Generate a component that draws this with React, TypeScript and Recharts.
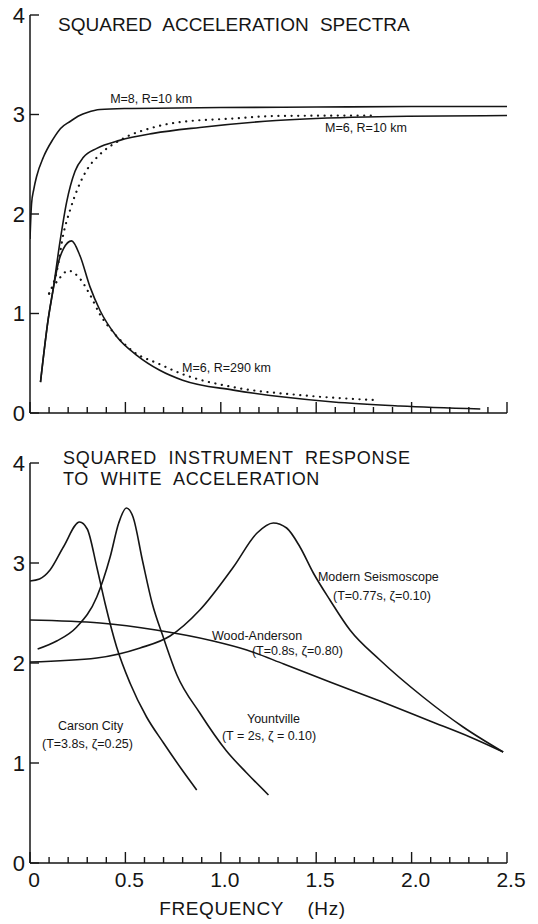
import React from "react";
import { LineChart, Line, XAxis, YAxis, ReferenceDot } from "recharts";

// ---------- DATA ----------
// Top panel: squared acceleration spectra (frequency Hz, value)
const m8r10Solid = [
  [0, 1.75], [0.008, 2.1], [0.02, 2.25], [0.035, 2.38], [0.07, 2.57], [0.12, 2.75],
  [0.16, 2.86], [0.21, 2.93], [0.26, 2.99], [0.3, 3.02], [0.367, 3.05], [0.5, 3.06],
  [1.0, 3.07], [1.5, 3.075], [2.0, 3.08], [2.5, 3.08],
];
const m6r10Solid = [
  [0.055, 0.31], [0.096, 0.95], [0.122, 1.25], [0.157, 1.72], [0.192, 2.12],
  [0.236, 2.43], [0.28, 2.57], [0.35, 2.66], [0.47, 2.74], [0.646, 2.81],
  [0.89, 2.87], [1.29, 2.94], [1.76, 2.975], [2.5, 2.99],
];
const m6r10Dotted = [
  [0.1, 1.2], [0.14, 1.42], [0.175, 1.8], [0.21, 2.04], [0.253, 2.27], [0.297, 2.44],
  [0.367, 2.6], [0.47, 2.74], [0.646, 2.87], [0.77, 2.92], [1.066, 2.96],
  [1.29, 2.985], [1.8, 2.99],
];
const m6r290Solid = [
  [0.055, 0.31], [0.096, 0.95], [0.122, 1.25], [0.15, 1.52], [0.175, 1.65],
  [0.218, 1.73], [0.262, 1.58], [0.314, 1.27], [0.367, 1.03], [0.454, 0.77],
  [0.56, 0.58], [0.68, 0.43], [0.8, 0.33], [1.066, 0.23], [1.33, 0.16],
  [1.59, 0.11], [1.94, 0.07], [2.36, 0.04],
];
const m6r290Dotted = [
  [0.1, 1.2], [0.157, 1.36], [0.2, 1.43], [0.253, 1.37], [0.314, 1.19],
  [0.367, 0.99], [0.437, 0.81], [0.54, 0.62], [0.68, 0.49], [0.8, 0.39],
  [1.066, 0.26], [1.415, 0.18], [1.81, 0.13],
];

// Bottom panel: squared instrument response
const carsonCity = [
  [0, 2.82], [0.05, 2.84], [0.105, 2.93], [0.175, 3.16], [0.26, 3.41],
  [0.3, 3.34], [0.35, 2.96], [0.393, 2.6], [0.454, 2.16], [0.524, 1.8],
  [0.611, 1.46], [0.7, 1.2], [0.79, 0.95], [0.874, 0.73],
];
const yountville = [
  [0.04, 2.14], [0.14, 2.22], [0.245, 2.36], [0.35, 2.66], [0.42, 3.06],
  [0.465, 3.4], [0.505, 3.55], [0.54, 3.46], [0.59, 3.02], [0.64, 2.6],
  [0.7, 2.25], [0.77, 1.88], [0.89, 1.5], [1.03, 1.12], [1.136, 0.9], [1.25, 0.68],
];
const woodAnderson = [
  [0, 2.43], [0.367, 2.4], [0.66, 2.33], [0.96, 2.22], [1.136, 2.13],
  [1.33, 1.99], [1.572, 1.81], [1.834, 1.62], [2.096, 1.42], [2.306, 1.26],
  [2.48, 1.11],
];
const modernSeismoscope = [
  [0, 2.01], [0.35, 2.05], [0.577, 2.15], [0.734, 2.27], [0.89, 2.53],
  [1.066, 2.96], [1.19, 3.3], [1.275, 3.4], [1.345, 3.35], [1.415, 3.16],
  [1.485, 2.9], [1.572, 2.63], [1.677, 2.33], [1.834, 2.03], [2.06, 1.66],
  [2.27, 1.36], [2.48, 1.11],
];

// Axis ticks
const xTicks = [
  0, 0.1, 0.2, 0.3, 0.4, 0.5, 0.6, 0.7, 0.8, 0.9, 1.0, 1.1, 1.2, 1.3, 1.4, 1.5,
  1.6, 1.7, 1.8, 1.9, 2.0, 2.1, 2.2, 2.3, 2.4, 2.5,
];
const xMajorTicks = [0, 0.5, 1.0, 1.5, 2.0, 2.5];
const xMajorLabels = ["0", "0.5", "1.0", "1.5", "2.0", "2.5"];
const yTicks = [0, 1, 2, 3, 4];
const yLabels = ["0", "1", "2", "3", "4"];

// Annotations (anchored in data space)
const topTitle = { f: 0.147, v: 3.84, lines: ["SQUARED ACCELERATION SPECTRA"] };
const bottomTitle = {
  f: 0.173,
  v: 3.99,
  lines: ["SQUARED INSTRUMENT RESPONSE", "TO WHITE ACCELERATION"],
};
const topLabels = [
  { f: 0.42, v: 3.115, text: "M=8, R=10 km" },
  { f: 1.546, v: 2.824, text: "M=6, R=10 km" },
  { f: 0.797, v: 0.412, text: "M=6, R=290 km" },
];
const bottomLabels = [
  { f: 1.509, v: 2.82, text: "Modern Seismoscope" },
  { f: 1.588, v: 2.63, text: "(T=0.77s, \u03b6=0.10)" },
  { f: 0.954, v: 2.23, text: "Wood-Anderson" },
  { f: 1.163, v: 2.08, text: "(T=0.8s, \u03b6=0.80)" },
  { f: 0.147, v: 1.33, text: "Carson City" },
  { f: 0.063, v: 1.15, text: "(T=3.8s, \u03b6=0.25)" },
  { f: 1.137, v: 1.4, text: "Yountville" },
  { f: 1.006, v: 1.23, text: "(T = 2s, \u03b6 = 0.10)" },
];
const xAxisTitle = "FREQUENCY  (Hz)";

// ---------- STYLE ----------
const INK = "#151515";
const FONT = "'Liberation Sans', Arial, sans-serif";

const toPts = (arr: number[][]) => arr.map(([f, v]) => ({ f, v }));

const isMajor = (v: number) => Math.abs(v * 2 - Math.round(v * 2)) < 1e-6;

const makeXTick = (showLabels: boolean) => (props: any) => {
  const { x, y, payload } = props;
  const val = payload.value as number;
  const major = isMajor(val);
  const len = major ? 11 : 6;
  let label: string | null = null;
  if (showLabels && major) {
    const idx = xMajorTicks.findIndex((m) => Math.abs(m - val) < 1e-6);
    label = idx >= 0 ? xMajorLabels[idx] : null;
  }
  return (
    <g>
      <line x1={x} x2={x} y1={y} y2={y - len} stroke={INK} strokeWidth={1.4} />
      {label !== null && (
        <text
          x={x + 4}
          y={y + 24}
          textAnchor="middle"
          fontSize={21}
          fontFamily={FONT}
          fill={INK}
        >
          {label}
        </text>
      )}
    </g>
  );
};

const YTick = (props: any) => {
  const { y, payload } = props;
  const idx = yTicks.indexOf(payload.value);
  return (
    <g>
      <line x1={30} x2={39} y1={y} y2={y} stroke={INK} strokeWidth={1.4} />
      <text
        x={25}
        y={y}
        dy="0.36em"
        textAnchor="end"
        fontSize={22}
        fontFamily={FONT}
        fill={INK}
      >
        {idx >= 0 ? yLabels[idx] : ""}
      </text>
    </g>
  );
};

const textShape = (text: string, size: number) => (p: any) => (
  <text
    x={p.cx}
    y={p.cy}
    fontSize={size}
    fontFamily={FONT}
    fill={INK}
    textAnchor="start"
    style={{ whiteSpace: "pre" }}
  >
    {text}
  </text>
);

const titleShape = (lines: string[], size: number, gap: number, spacing: number) => (p: any) => (
  <text
    x={p.cx}
    y={p.cy}
    fontSize={size}
    fontFamily={FONT}
    fill={INK}
    textAnchor="start"
    style={{ whiteSpace: "pre", wordSpacing: "6px", letterSpacing: `${spacing}px` }}
  >
    {lines.map((ln, i) => (
      <tspan key={ln} x={p.cx} dy={i === 0 ? 0 : gap}>
        {ln}
      </tspan>
    ))}
  </text>
);

const solid = (key: string, data: number[][]) => (
  <Line
    key={key}
    data={toPts(data)}
    dataKey="v"
    type="monotone"
    stroke={INK}
    strokeWidth={1.6}
    dot={false}
    activeDot={false}
    isAnimationActive={false}
  />
);
const dotted = (key: string, data: number[][]) => (
  <Line
    key={key}
    data={toPts(data)}
    dataKey="v"
    type="monotone"
    stroke={INK}
    strokeWidth={2.2}
    strokeDasharray="0.1 6.5"
    strokeLinecap="round"
    dot={false}
    activeDot={false}
    isAnimationActive={false}
  />
);

export default function App() {
  return (
    <div
      style={{
        position: "absolute",
        left: 0,
        top: 0,
        width: 538,
        height: 924,
        background: "#fff",
      }}
    >
      <div style={{ position: "absolute", left: 0, top: 0 }}>
        <LineChart width={538} height={440} margin={{ top: 15, right: 31, left: 0, bottom: 0 }}>
          <XAxis
            type="number"
            dataKey="f"
            domain={[0, 2.5]}
            ticks={xTicks}
            interval={0}
            height={27}
            tickSize={0}
            tickMargin={0}
            tickLine={false}
            axisLine={{ stroke: INK, strokeWidth: 1.5 }}
            tick={makeXTick(false)}
            allowDataOverflow
          />
          <YAxis
            type="number"
            domain={[0, 4]}
            ticks={yTicks}
            interval={0}
            width={30}
            tickSize={0}
            tickLine={false}
            axisLine={{ stroke: INK, strokeWidth: 1.5 }}
            tick={<YTick />}
            allowDataOverflow
          />
          {solid("m8", m8r10Solid)}
          {solid("m6a", m6r10Solid)}
          {dotted("m6ad", m6r10Dotted)}
          {solid("m6b", m6r290Solid)}
          {dotted("m6bd", m6r290Dotted)}
          <ReferenceDot
            x={topTitle.f}
            y={topTitle.v}
            r={0}
            ifOverflow="visible"
            shape={titleShape(topTitle.lines, 19, 0, 0)}
          />
          {topLabels.map((l) => (
            <ReferenceDot
              key={l.text}
              x={l.f}
              y={l.v}
              r={0}
              ifOverflow="visible"
              shape={textShape(l.text, 12.5)}
            />
          ))}
        </LineChart>
      </div>
      <div style={{ position: "absolute", left: 0, top: 440 }}>
        <LineChart width={538} height={484} margin={{ top: 23, right: 31, left: 0, bottom: 0 }}>
          <XAxis
            type="number"
            dataKey="f"
            domain={[0, 2.5]}
            ticks={xTicks}
            interval={0}
            height={61}
            tickSize={0}
            tickMargin={0}
            tickLine={false}
            axisLine={{ stroke: INK, strokeWidth: 1.5 }}
            tick={makeXTick(true)}
            allowDataOverflow
            label={(p: any) => {
              const vb = p.viewBox || {};
              return (
                <text
                  x={vb.x + vb.width / 2 - 16}
                  y={vb.y + 52}
                  textAnchor="middle"
                  fontSize={19}
                  fontFamily={FONT}
                  fill={INK}
                  style={{ letterSpacing: "0.6px", wordSpacing: "6px", whiteSpace: "pre" }}
                >
                  {xAxisTitle}
                </text>
              );
            }}
          />
          <YAxis
            type="number"
            domain={[0, 4]}
            ticks={yTicks}
            interval={0}
            width={30}
            tickSize={0}
            tickLine={false}
            axisLine={{ stroke: INK, strokeWidth: 1.5 }}
            tick={<YTick />}
            allowDataOverflow
          />
          {solid("cc", carsonCity)}
          {solid("yv", yountville)}
          {solid("wa", woodAnderson)}
          {solid("ms", modernSeismoscope)}
          <ReferenceDot
            x={bottomTitle.f}
            y={bottomTitle.v}
            r={0}
            ifOverflow="visible"
            shape={titleShape(bottomTitle.lines, 18, 21, 0.7)}
          />
          {bottomLabels.map((l) => (
            <ReferenceDot
              key={l.text}
              x={l.f}
              y={l.v}
              r={0}
              ifOverflow="visible"
              shape={textShape(l.text, 12.5)}
            />
          ))}
        </LineChart>
      </div>
    </div>
  );
}
